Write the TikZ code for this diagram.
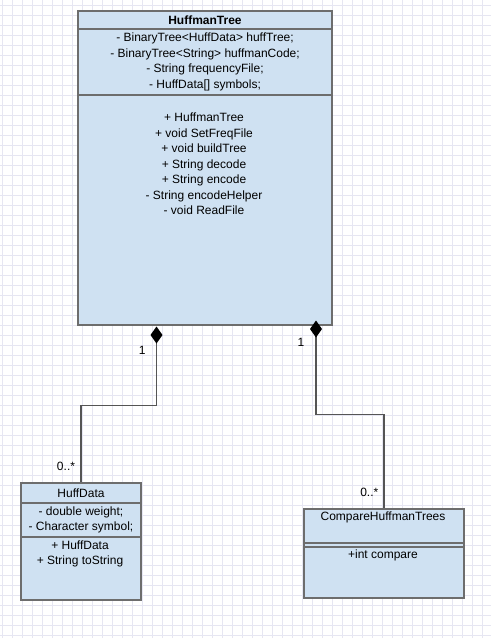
\documentclass[tikz,border=0pt]{standalone}
\usepackage{fontspec}
\setmainfont{Liberation Sans}
\usetikzlibrary{arrows.meta,calc}
\definecolor{umlfill}{HTML}{CFE1F2}
\definecolor{umlline}{HTML}{6D6D6D}
\definecolor{gridc}{HTML}{E6E6F2}
\definecolor{connc}{HTML}{555555}
\begin{document}
\begin{tikzpicture}[x=1pt,y=-1pt,
  font=\fontsize{12}{15.5}\selectfont,
  comp/.style={draw=umlline, fill=umlfill, line width=2pt, inner sep=0pt, anchor=north west, align=center},
  txt/.style={inner sep=0pt, align=center},
  conn/.style={draw=connc, line width=1.5pt},
  mult/.style={inner sep=0pt, font=\fontsize{12}{14}\selectfont},
  comptip/.style={{Diamond[length=17pt,width=12pt,color=black]}-}]
\fill[white] (0,0) rectangle (491,638);
\useasboundingbox (0,0) rectangle (491,638);
\foreach \x in {2,12,...,482} \draw[gridc, line width=0.6pt] (\x,0) -- (\x,638);
\foreach \y in {5,15,...,635} \draw[gridc, line width=0.6pt] (0,\y) -- (491,\y);

% HuffmanTree
\node[comp, minimum width=254pt, minimum height=18pt] (htTitle) at (77,10) {\bfseries HuffmanTree};
\node[comp, minimum width=254pt, minimum height=66pt] (htAttr) at (77,28)
  {- BinaryTree<HuffData> huffTree;\\- BinaryTree<String> huffmanCode;\\- String frequencyFile;\\- HuffData[] symbols;};
\node[comp, minimum width=254pt, minimum height=230pt] (htMeth) at (77,94) {};
\node[txt] (htMethText) at (204,163.8)
  {+ HuffmanTree\\+ void SetFreqFile\\+ void buildTree\\+ String decode\\+ String encode\\- String encodeHelper\\- void ReadFile};

% HuffData
\node[comp, minimum width=120pt, minimum height=20pt] (hdTitle) at (20,482) {HuffData};
\node[comp, minimum width=120pt, minimum height=34pt, font=\fontsize{12}{14.7}\selectfont] (hdAttr) at (20,502)
  {- double weight;\\- Character symbol;};
\node[comp, minimum width=120pt, minimum height=63pt] (hdMeth) at (20,536) {};
\node[txt, font=\fontsize{12}{14.3}\selectfont] (hdMethText) at (80,553.9) {+ HuffData\\+ String toString};

% CompareHuffmanTrees
\node[comp, minimum width=160pt, minimum height=34.3pt] (chTitle) at (303,508) {};
\node[txt] (chTitleText) at (383,517.3) {CompareHuffmanTrees};
\node[comp, minimum width=160pt, minimum height=3.5pt] (chAttr) at (303,542.3) {};
\node[comp, minimum width=160pt, minimum height=51pt] (chMeth) at (303,545.8) {};
\node[txt] (chMethText) at (383,555.7) {+int compare};

% connectors
\draw[conn, comptip] ([xshift=79.5pt,yshift=-0.5pt]htMeth.south west) -- ++(0,79) -| (hdTitle.north);
\draw[conn, comptip] ([xshift=239pt,yshift=5.5pt]htMeth.south west) -- ++(0,94.2) -| (chTitle.north);

% multiplicities
\node[mult] (m1) at (142.3,350) {1};
\node[mult] (m2) at (301,342.7) {1};
\node[mult] (m3) at (66,466.7) {0..*};
\node[mult] (m4) at (369.3,492.3) {0..*};
\end{tikzpicture}
\end{document}
